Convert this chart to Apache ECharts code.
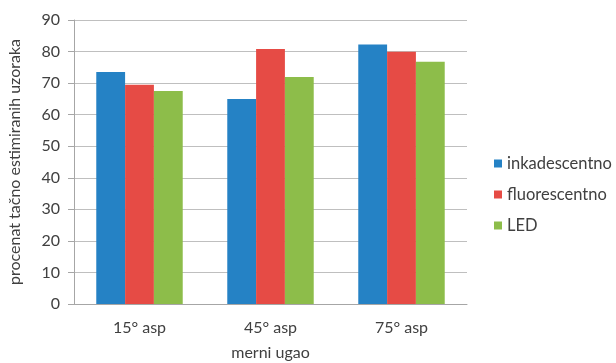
<!DOCTYPE html>
<html><head><meta charset="utf-8">
<script src="https://cdn.jsdelivr.net/npm/echarts@6/dist/echarts.min.js"></script>
<style>html,body{margin:0;padding:0;background:#fff}#c{width:616px;height:363px}</style>
</head><body><div id="c"></div>
<script>
const categories = ['15° asp', '45° asp', '75° asp'];
const seriesNames = ['inkadescentno', 'fluorescentno', 'LED'];
const inkadescentno = [73.5, 65.0, 82.2];
const fluorescentno = [69.5, 80.8, 79.9];
const led = [67.5, 71.9, 76.8];
const yTicks = [0, 10, 20, 30, 40, 50, 60, 70, 80, 90];
const colors = ['#2582c5', '#e64b45', '#8dbd4a'];
const font = 'Lato, "Liberation Sans", sans-serif';
const txt = '#404040';
const chart = echarts.init(document.getElementById('c'));
chart.setOption({
  animation: false,
  textStyle: {fontFamily: font},
  grid: {left: 74, right: 149, top: 20, bottom: 59, outerBoundsMode: 'none', containLabel: false},
  legend: {
    orient: 'vertical', left: 489, top: 150, itemWidth: 8, itemHeight: 8, itemGap: 14,
    icon: 'rect', textStyle: {fontSize: 16.5, color: txt, fontFamily: font},
    data: seriesNames
  },
  xAxis: {
    type: 'category', data: categories,
    name: 'merni ugao', nameLocation: 'middle', nameGap: 41,
    nameTextStyle: {fontSize: 16, color: txt, fontFamily: font},
    axisLine: {lineStyle: {color: '#a6a6a6'}},
    axisTick: {show: false},
    axisLabel: {fontSize: 16, color: txt, margin: 16, fontFamily: font}
  },
  yAxis: {
    type: 'value', min: yTicks[0], max: yTicks[yTicks.length - 1], interval: 10,
    name: 'procenat tačno estimiranih uzoraka', nameLocation: 'middle', nameGap: 51,
    nameTextStyle: {fontSize: 16, color: txt, fontFamily: font},
    axisLine: {show: true, lineStyle: {color: '#a6a6a6'}},
    axisTick: {show: true, length: 6, lineStyle: {color: '#a6a6a6'}},
    axisLabel: {fontSize: 16, color: txt, margin: 14, fontFamily: font},
    splitLine: {lineStyle: {color: '#bfbfbf'}}
  },
  series: [
    {name: seriesNames[0], type: 'bar', data: inkadescentno, barGap: '0%', barCategoryGap: '34%', itemStyle: {color: colors[0]}},
    {name: seriesNames[1], type: 'bar', data: fluorescentno, barGap: '0%', barCategoryGap: '34%', itemStyle: {color: colors[1]}},
    {name: seriesNames[2], type: 'bar', data: led, barGap: '0%', barCategoryGap: '34%', itemStyle: {color: colors[2]}}
  ]
});
</script></body></html>
